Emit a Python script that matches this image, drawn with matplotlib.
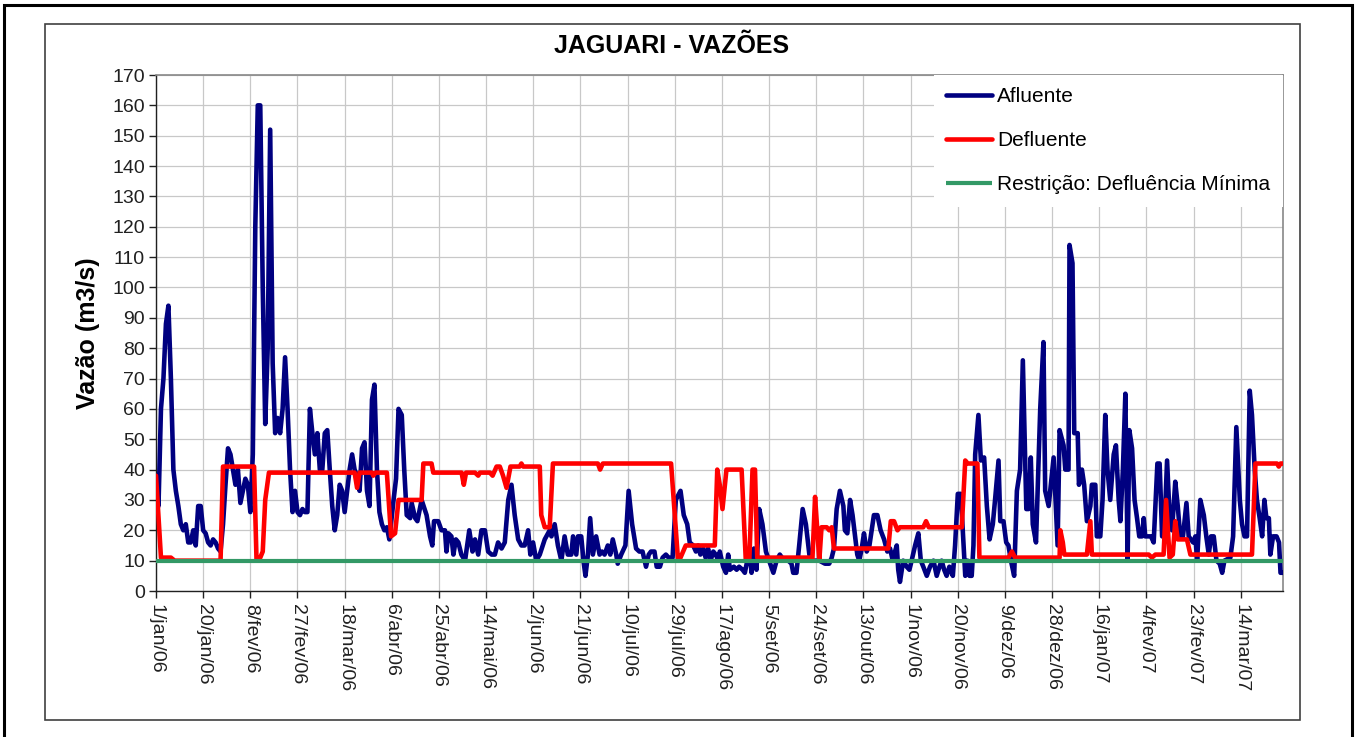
# Jaguari - vazões afluente / defluente (jan/06 a mar/07)
import matplotlib
matplotlib.use('Agg')
import matplotlib.pyplot as plt
from matplotlib.patches import Rectangle

plt.rcParams['font.family'] = ['Liberation Sans', 'DejaVu Sans']

# dias contados a partir de 1/jan/06, valores em m3/s
afl_dia = [0, 1, 2, 3, 4, 5, 6, 7, 8, 9, 10, 11, 12, 13, 14, 15, 16, 17, 18, 19,
           20, 21, 22, 23, 24, 25, 26, 27, 28, 29, 30, 31, 32, 33, 34, 35, 36, 37, 38, 39,
           40, 41, 42, 43, 44, 45, 46, 47, 48, 49, 50, 51, 52, 53, 54, 55, 56, 57, 58, 59,
           60, 61, 62, 63, 64, 65, 66, 67, 68, 69, 70, 71, 72, 73, 74, 75, 76, 77, 78, 79,
           80, 81, 82, 83, 84, 85, 86, 87, 88, 89, 90, 91, 92, 93, 94,
           95.7, 96.7, 97.7, 99, 100, 101, 102.4, 103, 104.4, 105.3, 107, 109, 110.4, 111.3,
           112, 113.7, 115, 116.4, 117, 117.8, 119, 119.8, 120.8, 121.8, 123, 124.5, 126.2,
           127.5, 128.5, 129.8, 131.1, 132.5, 133.8, 135.2, 136.5, 137.8, 139.2, 140.5, 141.9,
           143.2, 144.5, 145.9, 147.2, 148.5, 149.9, 150.8, 151.9, 153.2, 154.6, 156.6, 158.6,
           159.3, 160.6, 161.9, 163.3, 164.6, 165.9, 167.3, 168, 169.3, 170, 171.3, 172.2, 173,
           174, 174.9, 176, 177.3, 178.7, 179.7, 180.7, 182, 183, 184, 185.4, 186, 187.4, 189.1,
           190.4, 191.8, 193.4, 194.7, 196, 197.4, 198.5, 199.4, 200.8, 201.7, 203, 204.1,
           205.4, 206.5, 208.1,
           209.4, 211.3, 212.6, 214, 215, 216.4, 217.5, 218.4, 219.3, 220.4, 221.4, 222.4,
           223.4, 224.5, 225.5, 226.5, 227.1, 228.5, 229.6, 230.5, 231.2, 232.8, 233.9, 234.9,
           236.3, 237.2, 238.2, 239.2, 239.9, 240.9, 241.9, 243, 244.3, 245.7, 247, 248.7, 250,
           251.3, 253, 254.7, 256, 256.7, 258, 259.1, 260.5, 261.8, 263.2, 264.5, 265.9, 267.2,
           269.5, 271.2, 272.2, 273.1, 274.2, 275.5, 276.9, 277.5, 278.5, 279.6, 280.6, 281.6,
           282.5, 283.3, 284.3, 285.2, 286.3, 287.4, 288.3, 289.2, 290.6, 291.9, 293.3, 294.6,
           295.7, 296.8, 297.7, 298.4, 299, 299.7, 301, 302.4, 303.5, 304.4, 305.8, 307.1,
           308.1, 309.1, 310.5, 311.8, 313.2, 314.5, 315.6, 316.5, 317.5, 318.5, 319.6, 321,
           321.9, 323,
           324.2, 325, 326, 326.9, 327.7, 328.6, 329.3, 330, 331.3, 332.3, 333.6, 334.7, 335.8,
           337.1, 338, 339.4, 340.1, 341.4, 342.5, 343.4, 344.4, 345.7, 346.8, 348.1, 349.2,
           350.6, 351.5, 352.4, 353.2, 354.5, 356.2, 357.5, 358.2, 359.6, 361.6, 363.2, 364,
           365.6, 366.3, 367.6, 368, 369.2, 369.9, 371.3, 371.8, 373, 373.9, 375, 376.4, 377,
           378.4, 379, 380.4, 381.3, 382.4, 383.3, 384.4, 385.8, 386.7, 387.8, 388.5, 389.5,
           390.5, 391.4, 392.1, 393.2, 394.2, 395.2, 396.1, 397.2, 397.9, 398.5, 400.8, 401.9,
           403.4, 404.3, 405.3, 406.2, 407.3, 408.3, 409.3, 410.6, 411.6, 412.6, 413.7, 415.1,
           416, 417.8, 418.7, 419.4, 420.7, 422.1, 423.1, 424.1, 425, 426.1, 427.2, 428.5,
           429.5, 430.4, 432.8, 433.9, 435.2, 436.6, 437.5, 438.5, 439.5, 440.6, 441.5, 442.6,
           443.5, 444.6, 445.6, 446.5, 447.3, 448.3, 448.9, 450, 451.4, 452.4, 453, 454]
afl_val = [38, 28, 60, 70, 88, 94, 70, 40, 33, 28, 22, 20, 22, 16, 16, 20, 15, 28, 28, 20,
           19, 16, 15, 17, 16, 14, 13, 22, 35, 47, 45, 40, 35, 40, 29, 33, 37, 35, 26, 45,
           120, 160, 160, 100, 55, 80, 152, 75, 52, 57, 52, 60, 77, 60, 40, 26, 33, 26, 25, 27,
           26, 26, 60, 52, 45, 52, 40, 40, 52, 53, 40, 28, 20, 25, 35, 33, 26, 33, 40, 45,
           40, 38, 33, 47, 49, 33, 28, 63, 68, 40, 26, 22, 20, 21, 17,
           30, 37, 60, 58, 40, 25, 24, 29, 24, 23, 30, 25, 18, 15,
           23, 23, 20, 20, 13, 19, 18, 12, 17, 16, 12, 10, 20,
           13, 17, 12, 20, 20, 13, 12, 12, 16, 14, 16, 30,
           35, 25, 17, 15, 15, 20, 12, 16, 10, 12, 17, 20,
           18, 22, 15, 10, 18, 12, 12, 18, 12, 18, 18, 10, 5,
           12, 24, 12, 18, 12, 13, 12, 15, 12, 17, 12, 9, 12, 15,
           33, 22, 14, 13, 13, 8, 12, 13, 13, 8, 8, 11,
           12, 11, 11,
           30, 33, 25, 22, 16, 15, 13, 15, 12, 14, 11, 14,
           10, 13, 12, 10, 13, 8, 6, 12, 7, 8, 7, 8,
           7, 6, 10, 13, 6, 14, 7, 27, 22, 13, 10, 6, 10,
           12, 10, 10, 9, 6, 6, 15, 27, 22, 12, 10, 10, 10,
           9, 9, 11, 14, 27, 33, 28, 20, 19, 30, 25, 18,
           12, 10, 14, 19, 13, 15, 20, 25, 25, 20, 17, 13,
           14, 10, 13, 15, 7, 3, 10, 8, 7, 10, 15, 19,
           10, 8, 5, 8, 10, 5, 8, 10, 7, 5, 8, 5,
           15, 32,
           32, 20, 5, 10, 5, 5, 15, 45, 58, 43, 44, 28, 17,
           22, 30, 43, 23, 23, 16, 15, 10, 5, 33, 40, 76,
           27, 27, 44, 22, 16, 60, 82, 33, 28, 44, 15, 53,
           48, 40, 40, 114, 108, 52, 52, 35, 40, 35, 23, 28, 35,
           35, 18, 18, 30, 58, 40, 30, 45, 48, 30, 23, 40,
           65, 10, 53, 47, 30, 24, 18, 18, 24, 18, 18, 16,
           42, 42, 18, 20, 43, 25, 20, 36, 28, 18, 18, 29,
           18, 16, 18, 10, 30, 25, 18, 12, 18, 18, 10, 9,
           6, 10, 11, 18, 54, 30, 22, 18, 18, 66, 58, 40,
           30, 24, 18, 30, 24, 24, 12, 18, 18, 16, 6, 6]

def_dia = [0, 2, 6, 7.5, 26, 27, 38, 39.5, 40.5, 42, 43, 44, 45.5, 80, 81, 82, 87, 87.5,
           88.5, 93, 94.7, 96.3, 97.7, 107, 107.7, 111, 111.7, 123.1, 124, 124.9, 128.5,
           129.8, 130.5, 134.5, 135.6, 137.2, 138.5, 139.8, 141.2, 142.8, 146.5, 147.2, 147.9,
           154.6, 155.2, 156.6, 158.6, 159.9, 178, 178.9, 180, 207.5, 210.3, 211.3, 213.4,
           225.1, 226.1, 227.1, 228.2, 229.8, 235.9, 237.6, 239, 240.3, 241.3, 242.2, 263.4,
           264.4, 265.5, 266.4, 267.2, 268.1, 270.2, 271.2, 272.2, 273.1, 295, 296, 297.3,
           298.7, 299.7, 309.1, 310.2, 311.3, 324.6, 326, 327, 330.9, 331.7, 343.4, 344.8,
           346.1, 364, 364.3, 365.3, 365.9, 375, 376.4, 377, 399.9, 401.2, 402.6, 405.9,
           406.9, 408.3, 409.6, 410.6, 411.6, 415.3, 416.7, 441.5, 442.9, 451.6, 452.3, 453, 454]
def_val = [38, 11, 11, 10, 10, 41, 41, 41, 10, 11, 13, 30, 39, 39, 34, 39, 39, 38,
           39, 39, 18, 19, 30, 30, 42, 42, 39, 39, 35, 39, 39,
           38, 39, 39, 38, 41, 41, 38, 34, 41, 41, 42, 41,
           41, 25, 21, 21, 42, 42, 40, 42, 42, 10, 11, 15,
           15, 40, 35, 27, 40, 40, 10, 10, 40, 40, 11, 11,
           10, 31, 20, 10, 21, 21, 20, 21, 14, 14, 23, 23,
           20, 21, 21, 23, 21, 21, 43, 42, 42, 11, 11, 13,
           11, 11, 20, 16, 12, 12, 23, 12, 12, 11, 12, 12,
           30, 11, 12, 23, 17, 17, 12, 12, 42, 42, 41, 42, 42]

res_dia = [0, 454]
res_val = [10, 10]

tick_dias = list(range(0, 438, 19))
tick_rotulos = ['1/jan/06', '20/jan/06', '8/fev/06', '27/fev/06', '18/mar/06', '6/abr/06',
                '25/abr/06', '14/mai/06', '2/jun/06', '21/jun/06', '10/jul/06', '29/jul/06',
                '17/ago/06', '5/set/06', '24/set/06', '13/out/06', '1/nov/06', '20/nov/06',
                '9/dez/06', '28/dez/06', '16/jan/07', '4/fev/07', '23/fev/07', '14/mar/07']

W, H = 1356, 737
fig = plt.figure(figsize=(W / 100, H / 100), dpi=100)
ax = fig.add_axes([156 / W, 1 - 591 / H, (1283 - 156) / W, (591 - 75) / H])

estilo = dict(solid_joinstyle='round', solid_capstyle='round')
ax.plot(afl_dia, afl_val, color='#000080', lw=3.3, label='Afluente', zorder=3, **estilo)
ax.plot(def_dia, def_val, color='#ff0000', lw=3.3, label='Defluente', zorder=4, **estilo)
ax.plot(res_dia, res_val, color='#339966', lw=3.0, label='Restrição: Defluência Mínima',
        zorder=5, solid_capstyle='butt')

ax.set_xlim(0, 454)
ax.set_ylim(0, 170)
ax.set_yticks(range(0, 171, 10))
ax.set_xticks(tick_dias)
ax.set_xticklabels(tick_rotulos, rotation=-90, ha='center', va='top')
ax.grid(True, color='#c8c8c8', lw=0.9)
ax.set_axisbelow(True)
ax.tick_params(direction='out', length=5, width=1, colors='#202020', labelsize=14, pad=3)
ax.tick_params(axis='x', pad=4)
for s in ['left', 'bottom']:
    ax.spines[s].set_color('#202020')
    ax.spines[s].set_linewidth(1)
for s in ['top', 'right']:
    ax.spines[s].set_color('#888888')
    ax.spines[s].set_linewidth(1.2)

leg = ax.legend(loc='upper right', bbox_to_anchor=(1, 1), borderaxespad=0, frameon=True,
                fancybox=False, edgecolor='none', facecolor='white', framealpha=1,
                fontsize=15, handlelength=2.2, handletextpad=0.25, labelspacing=1.2,
                borderpad=0.6)
leg.set_zorder(6)

fig.text(672 / W, 1 - 46 / H, 'JAGUARI - VAZÕES', ha='center', va='center',
         fontsize=18, fontweight='bold')
fig.text(88 / W, 1 - 333 / H, 'Vazão (m3/s)', rotation=90, ha='center', va='center',
         fontsize=18, fontweight='bold')

# molduras
fig.add_artist(Rectangle((45 / W, 1 - 720 / H), (1300 - 45) / W, (720 - 24) / H,
                         transform=fig.transFigure, fill=False, ec='#404040', lw=1.2))
fig.add_artist(Rectangle((4 / W, -0.01), (1352 - 4) / W, 1.01 - 5 / H,
                         transform=fig.transFigure, fill=False, ec='black', lw=2.2))

fig.savefig('out.png', dpi=100)
